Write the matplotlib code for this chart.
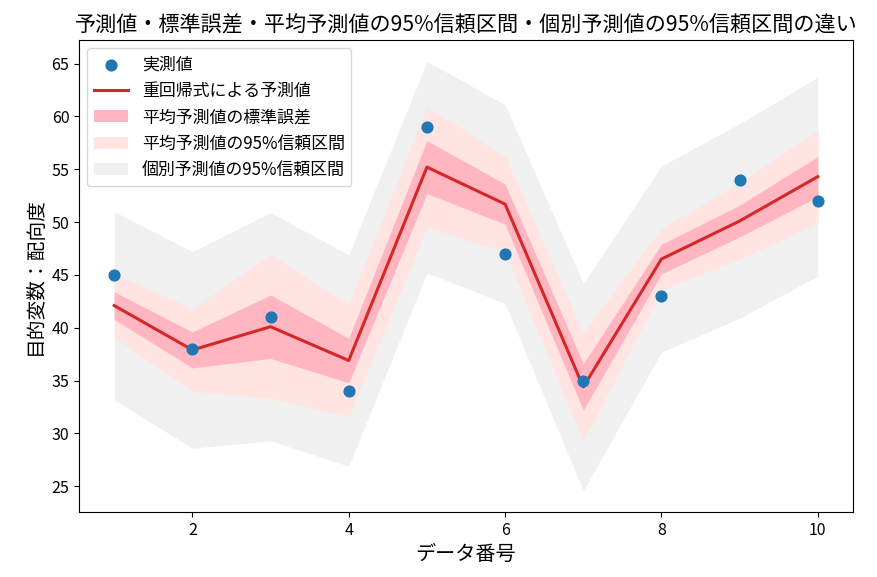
import matplotlib
matplotlib.use("Agg")
import matplotlib.pyplot as plt
import numpy as np

plt.rcParams['font.family'] = ['Noto Sans CJK JP', 'DejaVu Sans']

# data
data_no = [1, 2, 3, 4, 5, 6, 7, 8, 9, 10]
observed = [45, 38, 41, 34, 59, 47, 35, 43, 54, 52]
predicted = [42.1, 37.9, 40.1, 36.9, 55.2, 51.7, 34.4, 46.5, 50.1, 54.3]
se_half = [1.3, 1.7, 3.0, 2.1, 2.5, 1.9, 2.2, 1.4, 1.5, 1.9]
ci_half = [3.0, 3.9, 6.8, 5.3, 5.7, 4.5, 5.1, 2.9, 3.6, 4.4]
pi_half = [8.9, 9.3, 10.8, 10.0, 10.0, 9.4, 9.8, 8.8, 9.2, 9.4]

title = "予測値・標準誤差・平均予測値の95%信頼区間・個別予測値の95%信頼区間の違い"
xlabel = "データ番号"
ylabel = "目的変数：配向度"
labels = ["実測値", "重回帰式による予測値", "平均予測値の標準誤差",
          "平均予測値の95%信頼区間", "個別予測値の95%信頼区間"]

x = np.array(data_no)
p = np.array(predicted)
se = np.array(se_half)
ci = np.array(ci_half)
pi = np.array(pi_half)

fig = plt.figure(figsize=(8.78, 5.77), dpi=100)
ax = fig.add_axes([0.09, 0.1127, 0.8815, 0.818])

h_pi = ax.fill_between(x, p - pi, p + pi, color='#f0f0f0', linewidth=0)
h_ci = ax.fill_between(x, p - ci, p + ci, color='#ffe4e1', linewidth=0)
h_se = ax.fill_between(x, p - se, p + se, color='#ffb6c1', linewidth=0)
h_line, = ax.plot(x, p, color='#d62728', linewidth=2.2)
h_sc = ax.scatter(x, observed, color='#1f77b4', s=60, zorder=5)

ax.legend([h_sc, h_line, h_se, h_ci, h_pi], labels, loc='upper left', fontsize=12.2)
ax.set_title(title, fontsize=15.2)
ax.set_xlabel(xlabel, fontsize=14.5)
ax.set_ylabel(ylabel, fontsize=14.2)
ax.tick_params(labelsize=11.5)

fig.savefig("out.png", dpi=100)
